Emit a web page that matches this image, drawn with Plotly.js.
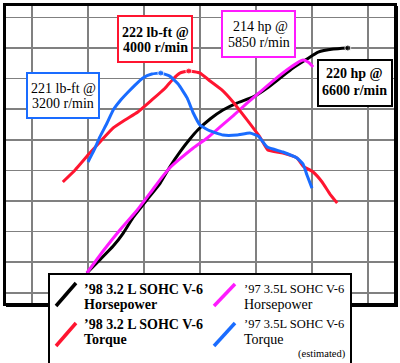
<!DOCTYPE html>
<html>
<head>
<meta charset="utf-8">
<script src="https://cdn.plot.ly/plotly-3.0.1.min.js"></script>
<style>html,body{margin:0;padding:0;background:#fff}#chart{width:400px;height:363px}</style>
</head>
<body>
<div id="chart"></div>
<script>
// ---- data (engine speed in r/min, horsepower, torque in lb-ft) ----
const rpmHp98 = [1980,2210,2450,2630,2800,3050,3290,3460,3640,3820,3960,4180,4410,4660,4950,5200,5430,5660,5910,6110,6380,6640];
const hp98    = [109.7,116.1,122.9,129.3,136.7,145.5,153.8,161.7,169.0,175.4,179.8,185.2,189.6,193.0,196.0,200.4,205.3,210.2,214.6,218.0,219.5,220.0];

const rpmTq98 = [1550,1770,2000,2230,2450,2660,2890,3140,3380,3520,3640,3800,4000,4180,4390,4590,4840,5070,5210,5480,5730,5840,6020,6180,6320,6450];
const tq98    = [167.6,173.5,180.8,187.7,194.1,198.0,201.9,207.8,213.7,218.1,221.0,222.0,221.0,217.1,212.7,206.8,198.0,189.6,183.3,181.8,179.4,175.4,172.5,167.6,161.7,157.3];

const rpmHp97 = [1980,2270,2570,2880,3110,3340,3460,3640,3880,4130,4360,4590,4840,5070,5300,5550,5730,5840,5930,6020];
const hp97    = [109.7,120.5,130.8,140.6,148.9,157.3,161.2,165.6,171.0,175.9,181.3,186.7,193.0,198.4,203.8,209.2,212.6,214.1,213.1,210.7];

const rpmTq97 = [2000,2110,2210,2340,2450,2570,2700,2840,2980,3140,3300,3460,3610,3770,3880,4000,4180,4410,4660,4890,5040,5200,5480,5730,5840,5910,6000];
const tq97    = [177.4,183.3,189.6,196.5,202.9,207.3,211.2,215.1,218.6,220.5,221.0,219.5,215.6,208.8,201.4,195.5,192.6,190.6,190.6,191.6,190.1,184.7,182.3,179.4,176.4,171.0,164.6];

const seriesLine1 = ["’98 3.2 L SOHC V-6", "’98 3.2 L SOHC V-6", "’97 3.5L SOHC V-6", "’97 3.5L SOHC V-6"];
const seriesLine2 = ["Horsepower", "Torque", "Horsepower", "Torque"];
const seriesColors = ["#000000", "#ff1530", "#ff1aff", "#1a6cff"];
const calloutLines = [
  ["222 lb-ft @", "4000 r/min"],
  ["221 lb-ft @", "3200 r/min"],
  ["214 hp @", "5850 r/min"],
  ["220 hp @", "6600 r/min"]
];
const footnote = "(estimated)";

// ---- helpers: pixel -> paper coords ----
const L = 5, R = 395, T = 4, B = 305;
const PX = p => (p - L) / (R - L);
const PY = p => (B - p) / (B - T);
const FONT = "Liberation Serif, Times New Roman, serif";

function markSizes(arr, idx, s) { return arr.map((_, i) => (i === idx ? s : 0)); }
const peakIdx = a => a.indexOf(Math.max(...a));

const traces = [
  {x: rpmHp98, y: hp98, yaxis: 'y', mode: 'lines+markers', line: {color: seriesColors[0], width: 3, shape: 'spline', smoothing: 0.4},
   marker: {color: seriesColors[0], size: markSizes(hp98, hp98.length - 1, 6)}},
  {x: rpmHp97, y: hp97, yaxis: 'y', mode: 'lines', line: {color: seriesColors[2], width: 3, shape: 'spline', smoothing: 0.4}},
  {x: rpmTq98, y: tq98, yaxis: 'y2', mode: 'lines+markers', line: {color: seriesColors[1], width: 3, shape: 'spline', smoothing: 0.4},
   marker: {color: seriesColors[1], size: markSizes(tq98, peakIdx(tq98), 6)}},
  {x: rpmTq97, y: tq97, yaxis: 'y2', mode: 'lines+markers', line: {color: seriesColors[3], width: 3, shape: 'spline', smoothing: 0.4},
   marker: {color: seriesColors[3], size: markSizes(tq97, peakIdx(tq97), 6)}}
];

const shapes = [];
const annotations = [];
function box(x0, y0, x1, y1, color, w, fill) {
  shapes.push({type: 'rect', xref: 'paper', yref: 'paper', x0: PX(x0), x1: PX(x1), y0: PY(y1), y1: PY(y0),
    line: {color: color, width: w}, fillcolor: fill || 'rgba(0,0,0,0)', layer: 'above'});
}
function txt(s, x, y, size, bold, anchor) {
  annotations.push({text: bold ? '<b>' + s + '</b>' : s, xref: 'paper', yref: 'paper', x: PX(x), y: PY(y),
    xanchor: anchor || 'center', yanchor: 'middle', showarrow: false,
    font: {family: FONT, size: size, color: '#000'}});
}
function seg(x0, y0, x1, y1, color, w) {
  shapes.push({type: 'line', xref: 'paper', yref: 'paper', x0: PX(x0), x1: PX(x1), y0: PY(y0), y1: PY(y1),
    line: {color: color, width: w}, layer: 'above'});
}

// frame
box(4.5, 4.5, 395.5, 304.5, '#000', 3);
shapes.push({type: 'rect', xref: 'paper', yref: 'paper', x0: PX(395.5), x1: PX(398), y0: PY(307), y1: PY(6), line: {width: 0}, fillcolor: '#000', layer: 'above'});
shapes.push({type: 'rect', xref: 'paper', yref: 'paper', x0: PX(6), x1: PX(398), y0: PY(307), y1: PY(304.5), line: {width: 0}, fillcolor: '#000', layer: 'above'});

// callouts
box(118, 16, 192, 62, seriesColors[1], 2, '#fff');
txt(calloutLines[0][0], 155, 32, 14, true); txt(calloutLines[0][1], 155, 47, 14, true);
box(27, 73, 99, 118, seriesColors[3], 2, '#fff');
txt(calloutLines[1][0], 63, 89, 14, false); txt(calloutLines[1][1], 63, 103, 14, false);
box(222, 11, 295, 57, seriesColors[2], 2, '#fff');
txt(calloutLines[2][0], 260, 26, 14, false); txt(calloutLines[2][1], 259, 42, 14, false);
box(318, 60, 392, 106, '#000', 2, '#fff');
txt(calloutLines[3][0], 354.5, 74, 14, true); txt(calloutLines[3][1], 354, 90, 14, true);

// legend
box(49, 274, 351, 366, '#000', 2, '#fff');
seg(56, 306, 76, 283, seriesColors[0], 3.5);
seg(56, 346, 76, 323, seriesColors[1], 3.5);
seg(214, 306, 235, 284, seriesColors[2], 3.5);
seg(214, 346, 235, 323, seriesColors[3], 3.5);
txt(seriesLine1[0], 82, 289, 14, true, 'left'); txt(seriesLine2[0], 82, 304, 14, true, 'left');
txt(seriesLine1[1], 82, 324, 14, true, 'left'); txt(seriesLine2[1], 82, 339, 14, true, 'left');
txt(seriesLine1[2], 242, 289, 12.5, false, 'left'); txt(seriesLine2[2], 242, 304, 14, false, 'left');
txt(seriesLine1[3], 242, 324, 12.5, false, 'left'); txt(seriesLine2[3], 242, 339, 14, false, 'left');
txt(footnote, 348, 354, 10.5, false, 'right');

const layout = {
  width: 400, height: 363,
  margin: {l: L, r: 400 - R, t: T, b: 363 - B, pad: 0},
  paper_bgcolor: '#fff', plot_bgcolor: '#fff',
  showlegend: false,
  xaxis: {range: [517.9, 7482.1], tick0: 0, dtick: 1000, showgrid: true, gridcolor: '#808080', gridwidth: 1.5,
          zeroline: false, showline: false, showticklabels: false, ticks: ''},
  yaxis: {range: [94.02, 241.57], tick0: 220, dtick: 15, showgrid: true, gridcolor: '#808080', gridwidth: 1.5,
          zeroline: false, showline: false, showticklabels: false, ticks: ''},
  yaxis2: {range: [107.3, 254.84], overlaying: 'y', side: 'right', visible: false, showgrid: false, zeroline: false},
  shapes: shapes,
  annotations: annotations
};

Plotly.newPlot('chart', traces, layout, {staticPlot: true, displayModeBar: false});
</script>
</body>
</html>
